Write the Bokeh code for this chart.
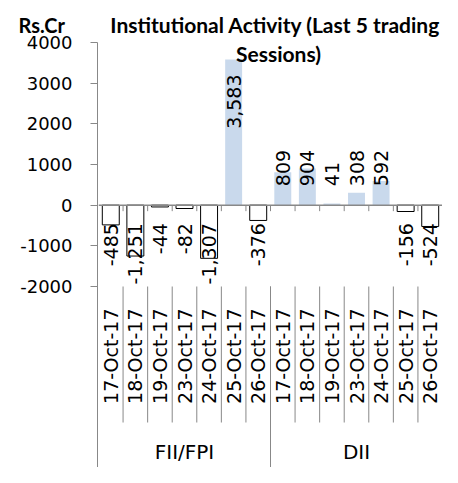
import math
from bokeh.plotting import figure
from bokeh.layouts import row
from bokeh.models import FactorRange, Range1d, FixedTicker, Span, Label, ColumnDataSource, Title
from bokeh.embed import file_html
from bokeh.resources import INLINE
from bokeh.core.properties import value
from bokeh.core.validation import silence
from bokeh.core.validation.warnings import MISSING_RENDERERS

silence(MISSING_RENDERERS, True)

# ---------------- data ----------------
groups = ["FII/FPI", "DII"]
dates = ["17-Oct-17", "18-Oct-17", "19-Oct-17", "23-Oct-17", "24-Oct-17", "25-Oct-17", "26-Oct-17"]
fii_values = [-485, -1251, -44, -82, -1307, 3583, -376]
dii_values = [809, 904, 41, 308, 592, -156, -524]
y_ticks = [-2000, -1000, 0, 1000, 2000, 3000, 4000]
y_unit = "Rs.Cr"
title_lines = ["Institutional Activity (Last 5 trading", "Sessions)"]

series = {"FII/FPI": fii_values, "DII": dii_values}
factors = [(g, d) for g in groups for d in dates]
vals = [v for g in groups for v in series[g]]
n = len(factors)

# ---------------- layout ----------------
W, H = 442, 467
AXIS_X = 97            # x of the value axis
TOP_PX = 42            # y of the top tick
FRAME_TOP = 36         # top of both plot frames
PPU = 244 / (max(y_ticks) - min(y_ticks))   # pixels per data unit
y_top_tick = max(y_ticks)
y_low = min(y_ticks)
y_bottom = y_top_tick - (H - TOP_PX) / PPU
y_range_top = y_top_tick + (TOP_PX - FRAME_TOP) / PPU

BLUE = "#C9D9EC"
GREY = "#888888"
NUM_FONT = "DejaVu Sans"
TITLE_FONT = "Lato"

# ---------- left figure: value axis + unit ----------
LEFT_W = AXIS_X + 1
pa = figure(width=LEFT_W, height=H, title=None,
            x_range=Range1d(0, 1), y_range=Range1d(y_bottom, y_range_top),
            output_backend="svg", toolbar_location=None, x_axis_location=None,
            min_border_left=AXIS_X, min_border_right=0, min_border_top=FRAME_TOP,
            min_border_bottom=0, outline_line_color=None)
pa.grid.visible = False
ax = pa.yaxis[0]
ax.ticker = FixedTicker(ticks=y_ticks)
ax.bounds = (y_bottom, y_top_tick)
ax.major_label_overrides = {t: str(t) for t in y_ticks}
ax.major_tick_in = 0
ax.major_tick_out = 7
ax.minor_tick_line_color = None
ax.axis_line_color = GREY
ax.major_tick_line_color = GREY
ax.major_label_text_font = NUM_FONT
ax.major_label_text_font_size = "18px"
ax.major_label_text_color = "#000000"
ax.major_label_standoff = 18
pa.add_layout(Title(text=y_unit, align="left", offset=18 - AXIS_X, standoff=0,
                    vertical_align="bottom", text_font=TITLE_FONT, text_font_style="bold",
                    text_font_size="20px", text_color="#000000"), "above")

# ---------- main figure: bars and category labels ----------
p = figure(width=W - LEFT_W, height=H, title=None,
           x_range=FactorRange(factors=factors, range_padding=0, group_padding=0,
                               factor_padding=0, subgroup_padding=0),
           y_range=Range1d(y_bottom, y_range_top),
           output_backend="svg", toolbar_location=None,
           x_axis_location=None, y_axis_location=None,
           min_border_left=0, min_border_top=FRAME_TOP, min_border_right=0, min_border_bottom=0,
           outline_line_color=None)
p.grid.visible = False
p.add_layout(Title(text=title_lines[0], align="right", offset=2, standoff=0,
                   vertical_align="bottom", text_font=TITLE_FONT, text_font_style="bold",
                   text_font_size="21px", text_color="#000000"), "above")

pos = [(f, v) for f, v in zip(factors, vals) if v >= 0]
neg = [(f, v) for f, v in zip(factors, vals) if v < 0]
p.vbar(x=[f for f, _ in pos], top=[v for _, v in pos], bottom=0, width=0.69,
       fill_color=BLUE, line_color=None)
p.vbar(x=[f for f, _ in neg], top=0, bottom=[v for _, v in neg], width=0.69,
       fill_color="white", line_color="black", line_width=1)

# zero line and its small ticks
p.add_layout(Span(location=0, dimension="width", line_color=GREY, line_width=1.5))
inner = list(range(1, n))
p.segment(x0=inner, x1=inner, y0=0, y1=-6 / PPU, line_color=GREY, line_width=1)

# category separators below the value axis
p.segment(x0=inner, x1=inner, y0=y_low, y1=y_low - 136 / PPU, line_color=GREY, line_width=1)
gb = [i * len(dates) for i in range(1, len(groups))]
p.segment(x0=gb, x1=gb, y0=y_low, y1=y_bottom, line_color=GREY, line_width=1)

# date labels
p.text(x=factors, y=y_low, text=[d for _, d in factors], angle=math.pi / 2,
       text_align="right", text_baseline="middle", y_offset=22,
       text_font=value(NUM_FONT), text_font_size="19px", text_color="#000000")

# group labels
gx = [(i + 0.5) * len(dates) for i in range(len(groups))]
p.text(x=gx, y=y_low, text=groups, text_align="center", text_baseline="middle",
       y_offset=165, text_font=value(NUM_FONT), text_font_size="20px", text_color="#000000")

# data labels
def lab(v):
    return f"{v:,}"

big = [(f, v) for f, v in pos if v * PPU > 100]
small = [(f, v) for f, v in pos if v * PPU <= 100]
neg_lab = dict(x=[f for f, _ in neg], y=[0] * len(neg), t=[lab(v) for _, v in neg])
big_lab = dict(x=[f for f, _ in big], y=[v for _, v in big], t=[lab(v) for _, v in big])
small_lab = dict(x=[f for f, _ in small], y=[0] * len(small), t=[lab(v) for _, v in small])

common = dict(text="t", angle=math.pi / 2, text_baseline="middle",
              text_font=value(NUM_FONT), text_font_size="19px", text_color="#000000")
p.text(x="x", y="y", source=ColumnDataSource(neg_lab), text_align="right", y_offset=18, **common)
p.text(x="x", y="y", source=ColumnDataSource(big_lab), text_align="right", y_offset=15, **common)
p.text(x="x", y="y", source=ColumnDataSource(small_lab), text_align="left", y_offset=-19, **common)

# second title line inside the frame
p.add_layout(Label(x=n / 2, y=y_top_tick, x_offset=8, y_offset=-11, text=title_lines[1],
                   text_font=TITLE_FONT, text_font_style="bold", text_font_size="21px",
                   text_align="center", text_baseline="alphabetic", text_color="#000000"))

layout = row(pa, p, spacing=0)
open("out.html", "w").write(file_html(layout, INLINE))
